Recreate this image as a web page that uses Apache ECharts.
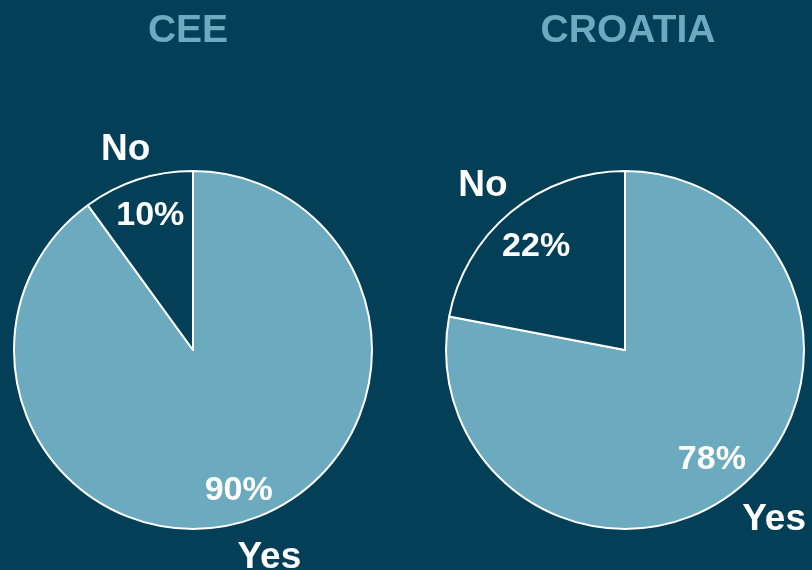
<!DOCTYPE html>
<html>
<head>
<meta charset="utf-8">
<script src="https://cdn.jsdelivr.net/npm/echarts@6/dist/echarts.min.js"></script>
<style>
  html, body { margin: 0; padding: 0; background: #033f57; }
  #chart { width: 812px; height: 570px; }
</style>
</head>
<body>
<div id="chart"></div>
<script>
// Survey answers per region
const regions = ['CEE', 'CROATIA'];
const answers = ['Yes', 'No'];
const ceeShares = [90, 10];
const croatiaShares = [78, 22];

const BG = '#033f57';
const LIGHT = '#6baabf';
const FONT = 'Liberation Sans, Arial, sans-serif';

// Pie geometry and label nudges per region (offsets listed in answer order)
const pies = [
  {
    title: regions[0], values: ceeShares, cx: 193, cy: 350, r: 179,
    pctRing: [111, 179], nameRing: [179, 251], titleX: 188,
    pctOffsets: [[0, 0], [3, 6]], nameOffsets: [[9, 0], [0, 7]]
  },
  {
    title: regions[1], values: croatiaShares, cx: 625, cy: 350, r: 179,
    pctRing: [97, 179], nameRing: [179, 267], titleX: 628,
    pctOffsets: [[-3, 1], [1, 5]], nameOffsets: [[5, -4], [2, 10]]
  }
];

function sliceData(values, styled, offsets) {
  return answers.map((name, i) => {
    const item = {
      name: name,
      value: values[i],
      itemStyle: styled
        ? { color: i === 0 ? LIGHT : BG, borderColor: '#ffffff', borderWidth: 2 }
        : { color: 'transparent', borderWidth: 0 }
    };
    if (offsets) item.label = { offset: offsets[i] };
    return item;
  });
}

const series = [];
pies.forEach(p => {
  // visible slices
  series.push({
    type: 'pie',
    center: [p.cx, p.cy],
    radius: [0, p.r],
    startAngle: 90,
    clockwise: true,
    silent: true,
    label: { show: false },
    labelLine: { show: false },
    data: sliceData(p.values, true)
  });
  // percentage labels
  series.push({
    type: 'pie',
    center: [p.cx, p.cy],
    radius: p.pctRing,
    startAngle: 90,
    clockwise: true,
    silent: true,
    z: 5,
    label: {
      show: true,
      position: 'inside',
      formatter: '{c}%',
      color: '#ffffff',
      fontFamily: FONT,
      fontWeight: 'bold',
      fontSize: 34
    },
    labelLine: { show: false },
    data: sliceData(p.values, false, p.pctOffsets)
  });
  // answer names
  series.push({
    type: 'pie',
    center: [p.cx, p.cy],
    radius: p.nameRing,
    startAngle: 90,
    clockwise: true,
    silent: true,
    z: 5,
    label: {
      show: true,
      position: 'inside',
      formatter: '{b}',
      color: '#ffffff',
      fontFamily: FONT,
      fontWeight: 'bold',
      fontSize: 37
    },
    labelLine: { show: false },
    data: sliceData(p.values, false, p.nameOffsets)
  });
});

const chart = echarts.init(document.getElementById('chart'));
chart.setOption({
  backgroundColor: BG,
  animation: false,
  title: pies.map(p => ({
    text: p.title,
    left: p.titleX,
    top: 12,
    padding: 0,
    textAlign: 'center',
    textStyle: {
      color: LIGHT,
      fontFamily: FONT,
      fontWeight: 'bold',
      fontSize: 39
    }
  })),
  series: series
});
</script>
</body>
</html>
